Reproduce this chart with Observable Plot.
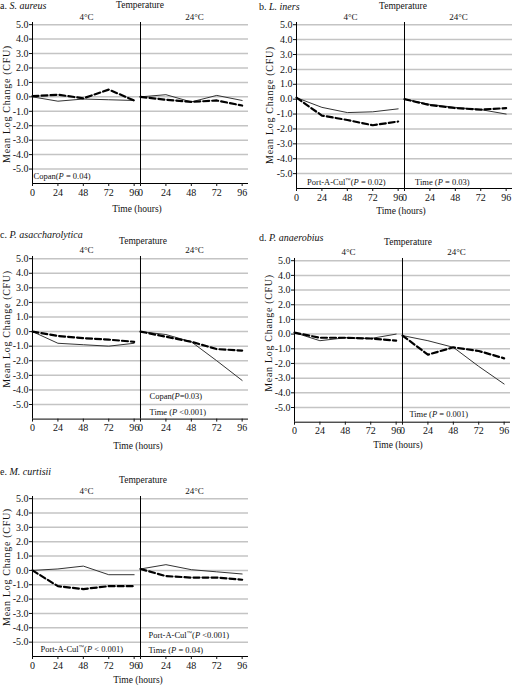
<!DOCTYPE html>
<html>
<head>
<meta charset="utf-8">
<script src="https://cdn.jsdelivr.net/npm/d3@7"></script>
<script src="https://cdn.jsdelivr.net/npm/@observablehq/plot@0.6"></script>
<style>
  html, body { margin: 0; padding: 0; background: #fff; }
  #root { position: relative; width: 512px; height: 685px; overflow: hidden;
          font-family: "Liberation Serif", "Times New Roman", serif; font-size: 10px; color: #111; }
  .panel { position: absolute; }
  .panel svg { position: absolute; left: 0; top: 0; overflow: visible; }
  .lbl { position: absolute; white-space: nowrap; line-height: 12px; }
  .ctr { width: 120px; margin-left: -60px; text-align: center; font-size: 9.5px; }
</style>
</head>
<body>
<div id="root"></div>
<script>
// ---- categories / ticks ----
const hours = [0, 24, 48, 72, 96];
const temps = ["4°C", "24°C"];
const yTicks = [-5, -4, -3, -2, -1, 0, 1, 2, 3, 4, 5];

// ---- series values (Mean Log Change, CFU) ----
// a. S. aureus
const aSolid4  = [0.0, -0.3, -0.15, -0.2, -0.25];
const aDash4   = [0.05, 0.15, -0.1, 0.5, -0.25];
const aSolid24 = [0.0, 0.15, -0.35, 0.1, -0.25];
const aDash24  = [0.0, -0.2, -0.35, -0.25, -0.6];
// b. L. iners
const bSolid4  = [0.1, -0.55, -0.9, -0.85, -0.65];
const bDash4   = [0.1, -1.1, -1.4, -1.75, -1.5];
const bSolid24 = [0.0, -0.35, -0.55, -0.7, -1.0];
const bDash24  = [0.0, -0.4, -0.6, -0.7, -0.6];
// c. P. asaccharolytica
const cSolid4  = [0.0, -0.8, -0.9, -1.0, -0.8];
const cDash4   = [0.0, -0.3, -0.45, -0.55, -0.7];
const cSolid24 = [0.0, -0.2, -0.7, -2.0, -3.35];
const cDash24  = [0.0, -0.35, -0.7, -1.2, -1.3];
// d. P. anaerobius
const dSolid4  = [0.1, -0.45, -0.25, -0.3, 0.0];
const dDash4   = [0.1, -0.25, -0.25, -0.3, -0.45];
const dSolid24 = [-0.1, -0.45, -0.9, -2.2, -3.4];
const dDash24  = [-0.1, -1.4, -0.9, -1.15, -1.65];
// e. M. curtisii
const eSolid4  = [0.0, 0.1, 0.3, -0.3, -0.3];
const eDash4   = [0.0, -1.1, -1.3, -1.1, -1.1];
const eSolid24 = [0.1, 0.4, 0.05, -0.1, -0.25];
const eDash24  = [0.1, -0.4, -0.5, -0.5, -0.65];

// ---- text ----
const panelLetters = ["a. ", "b. ", "c. ", "d. ", "e. "];
const species = ["S. aureus", "L. iners", "P. asaccharolytica", "P. anaerobius", "M. curtisii"];
const yLabel = "Mean Log Change (CFU)";
const xLabel = "Time (hours)";
const facetTitle = "Temperature";
const notesA = ["Copan(P = 0.04)"];
const notesB = ["Port-A-Cul™(P = 0.02)", "Time (P = 0.03)"];
const notesC = ["Copan(P=0.03)", "Time (P <0.001)"];
const notesD = ["Time (P = 0.001)"];
const notesE = ["Port-A-Cul™(P < 0.001)", "Port-A-Cul™(P <0.001)", "Time (P = 0.04)"];

function rowsFor(s4, d4, s24, d24) {
  const rows = [];
  hours.forEach((h, i) => {
    rows.push({temp: temps[0], hour: h, value: s4[i], kind: "solid"});
    rows.push({temp: temps[0], hour: h, value: d4[i], kind: "dash"});
    rows.push({temp: temps[1], hour: h, value: s24[i], kind: "solid"});
    rows.push({temp: temps[1], hour: h, value: d24[i], kind: "dash"});
  });
  return rows;
}

const panels = [
  {i: 0, rows: rowsFor(aSolid4, aDash4, aSolid24, aDash24),
   notes: [{temp: temps[0], x: 1, y: -5.5, t: notesA[0]}],
   left: 0, top: 0, mL: 32, mR: 8, mT: 22, fb: 183,
   titleX: 0, titleY: 6, tempX: 140, tempY: 5, timeX: 137, timeY: 209, ylX: 6.5, ylY: 104},
  {i: 1, rows: rowsFor(bSolid4, bDash4, bSolid24, bDash24),
   notes: [{temp: temps[0], x: 10, y: -5.6, t: notesB[0]}, {temp: temps[1], x: 10, y: -5.6, t: notesB[1]}],
   left: 256, top: 0, mL: 39, mR: 0, mT: 22, fb: 188,
   titleX: 3, titleY: 7, tempX: 147, tempY: 6, timeX: 145, timeY: 211, ylX: 13.5, ylY: 105},
  {i: 2, rows: rowsFor(cSolid4, cDash4, cSolid24, cDash24),
   notes: [{temp: temps[1], x: 8.5, y: -4.45, t: notesC[0]}, {temp: temps[1], x: 8.5, y: -5.55, t: notesC[1]}],
   left: 0, top: 225, mL: 32, mR: 8, mT: 31, fb: 193.6,
   titleX: 0, titleY: 10, tempX: 143, tempY: 16, timeX: 138, timeY: 221, ylX: 6.5, ylY: 104},
  {i: 3, rows: rowsFor(dSolid4, dDash4, dSolid24, dDash24),
   notes: [{temp: temps[1], x: 6.5, y: -5.48, t: notesD[0]}],
   left: 256, top: 225, mL: 38, mR: 2, mT: 33, fb: 196.7,
   titleX: 3, titleY: 13, tempX: 152, tempY: 17, timeX: 142, timeY: 220, ylX: 12.5, ylY: 108},
  {i: 4, rows: rowsFor(eSolid4, eDash4, eSolid24, eDash24),
   notes: [{temp: temps[0], x: 7.5, y: -5.5, t: notesE[0]}, {temp: temps[1], x: 7.5, y: -4.55, t: notesE[1]},
           {temp: temps[1], x: 7.5, y: -5.6, t: notesE[2]}],
   left: 0, top: 455, mL: 32, mR: 8, mT: 41, fb: 201,
   titleX: 0, titleY: 17, tempX: 143, tempY: 25, timeX: 138, timeY: 225, ylX: 6.5, ylY: 112}
];

function styleNotes(svg) {
  const ns = "http://www.w3.org/2000/svg";
  svg.querySelectorAll('g[aria-label="text"] text').forEach(t => {
    const s = t.textContent;
    const k = s.indexOf("(P");
    if (k < 0) return;
    t.textContent = "";
    const head = s.slice(0, k + 1);
    const tm = head.indexOf("™");
    if (tm >= 0) {
      const h1 = document.createElementNS(ns, "tspan"); h1.textContent = head.slice(0, tm);
      const h2 = document.createElementNS(ns, "tspan"); h2.textContent = "™";
      h2.setAttribute("font-size", "5.5"); h2.setAttribute("dy", "-3");
      const h3 = document.createElementNS(ns, "tspan"); h3.textContent = head.slice(tm + 1);
      h3.setAttribute("dy", "3");
      t.append(h1, h2, h3);
    } else {
      const a = document.createElementNS(ns, "tspan"); a.textContent = head;
      t.append(a);
    }
    const b = document.createElementNS(ns, "tspan"); b.textContent = "P"; b.setAttribute("font-style", "italic");
    const c = document.createElementNS(ns, "tspan"); c.textContent = s.slice(k + 2);
    t.append(b, c);
  });
}

const root = document.getElementById("root");
panels.forEach(p => {
  const div = document.createElement("div");
  div.className = "panel";
  div.style.left = p.left + "px";
  div.style.top = p.top + "px";
  div.style.width = "256px";
  div.style.height = (p.fb + 30) + "px";
  root.appendChild(div);

  const mB = 28;
  const chart = Plot.plot({
    width: 256,
    height: p.fb + mB,
    marginLeft: p.mL, marginRight: p.mR, marginTop: p.mT, marginBottom: mB,
    style: {fontFamily: "'Liberation Serif', 'Times New Roman', serif", fontSize: "10px", background: "transparent", color: "#111"},
    fx: {domain: temps, padding: 0},
    x: {domain: [0, 102]},
    y: {domain: [-6, 5.15]},
    marks: [
      Plot.ruleY(yTicks, {stroke: "#c4c4c4", strokeWidth: 1.5}),
      Plot.ruleX([0], {stroke: "#000", strokeWidth: 1}),
      Plot.ruleY([-6], {stroke: "#000", strokeWidth: 1}),
      Plot.line(p.rows.filter(d => d.kind === "solid"),
        {x: "hour", y: "value", fx: "temp", stroke: "#333", strokeWidth: 1}),
      Plot.line(p.rows.filter(d => d.kind === "dash"),
        {x: "hour", y: "value", fx: "temp", stroke: "#000", strokeWidth: 2.2, strokeDasharray: "6,3"}),
      Plot.axisFx({anchor: "top", tickSize: 0, tickPadding: 3, label: null, fontSize: 9}),
      Plot.axisY({ticks: yTicks, tickFormat: d => d.toFixed(1), tickSize: 3, tickPadding: 1, label: null}),
      Plot.axisX({ticks: hours, tickFormat: d => String(d), tickSize: 3, tickPadding: 2, label: null}),
      Plot.text(p.notes, {x: "x", y: "y", fx: "temp", text: "t", textAnchor: "start", fontSize: 8.5})
    ]
  });
  styleNotes(chart);
  d3.select(chart).append("text")
    .attr("transform", `translate(${p.ylX},${p.ylY}) rotate(-90)`)
    .attr("text-anchor", "middle")
    .attr("dy", "0.35em")
    .attr("font-size", 10)
    .attr("letter-spacing", 0.7)
    .attr("fill", "#111")
    .text(yLabel);
  div.appendChild(chart);

  const title = document.createElement("div");
  title.className = "lbl";
  title.style.left = p.titleX + "px";
  title.style.top = (p.titleY - 6) + "px";
  title.innerHTML = panelLetters[p.i] + "<i>" + species[p.i] + "</i>";
  div.appendChild(title);

  const temp = document.createElement("div");
  temp.className = "lbl ctr";
  temp.style.left = p.tempX + "px";
  temp.style.top = (p.tempY - 6) + "px";
  temp.textContent = facetTitle;
  div.appendChild(temp);

  const time = document.createElement("div");
  time.className = "lbl ctr";
  time.style.left = p.timeX + "px";
  time.style.top = (p.timeY - 6) + "px";
  time.textContent = xLabel;
  div.appendChild(time);
});
</script>
</body>
</html>
